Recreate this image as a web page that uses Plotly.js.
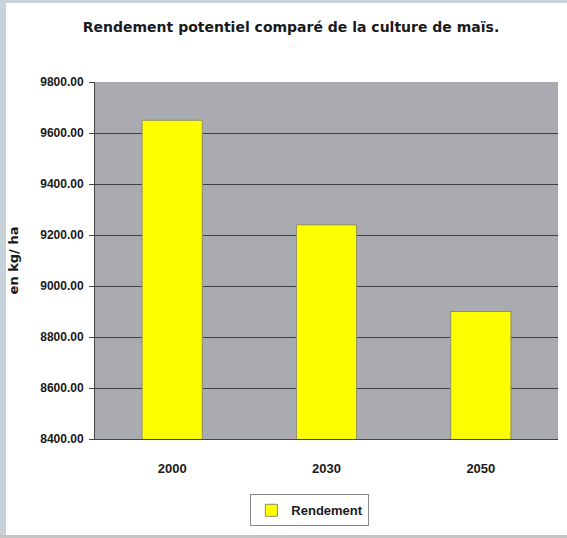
<!DOCTYPE html>
<html>
<head>
<meta charset="utf-8">
<script src="https://cdn.plot.ly/plotly-3.0.1.min.js"></script>
<style>
  html, body { margin: 0; padding: 0; width: 567px; height: 538px; background: #c8d2da; overflow: hidden; }
  #frame { position: absolute; left: 6px; top: 3px; width: 561px; height: 532px; background: #ffffff; }
  #bottom { position: absolute; left: 0; top: 535px; width: 567px; height: 3px; background: #c4c4c4; }
  #chart { width: 561px; height: 532px; }
</style>
</head>
<body>
<div id="frame"><div id="chart"></div></div>
<div id="bottom"></div>
<script>
// Data
const categories = ["2000", "2030", "2050"];
const rendement = [9650, 9240, 8900];
const seriesName = "Rendement";
const yTickValues = [8400, 8600, 8800, 9000, 9200, 9400, 9600, 9800];
const chartTitle = "Rendement potentiel comparé de la culture de maïs.";
const yTitle = "en kg/ ha";

const font = "Liberation Sans, Arial, sans-serif";
const wideFont = "DejaVu Sans, Liberation Sans, sans-serif";

const trace = {
  type: "bar",
  x: categories,
  y: rendement,
  name: seriesName,
  showlegend: true,
  marker: { color: "#ffff00", line: { color: "#8c8c6a", width: 1 } }
};

const layout = {
  width: 561,
  height: 532,
  margin: { l: 89, r: 9, t: 79, b: 91 },
  paper_bgcolor: "#ffffff",
  plot_bgcolor: "#aaabb1",
  bargap: 0.61,
  showlegend: true,
  title: {
    text: chartTitle,
    font: { family: wideFont, size: 14, color: "#1a1a1a", weight: "bold" },
    x: 0.508, xanchor: "center", xref: "container",
    y: 0.955, yanchor: "middle"
  },
  xaxis: {
    type: "category",
    showline: true, linecolor: "#444", linewidth: 1,
    ticks: "", ticklabelstandoff: 17,
    tickfont: { family: font, size: 13, color: "#1a1a1a", weight: "bold" },
    showgrid: false
  },
  yaxis: {
    range: [8400, 9800],
    tickvals: yTickValues,
    tickformat: ".2f",
    showline: true, linecolor: "#444", linewidth: 1,
    ticks: "outside", ticklen: 5, tickcolor: "#444",
    ticklabelstandoff: 3,
    tickfont: { family: font, size: 12, color: "#1a1a1a", weight: "bold" },
    showgrid: true, gridcolor: "#3e3e44", gridwidth: 1,
    zeroline: false,
    title: { text: yTitle, font: { family: wideFont, size: 13, color: "#1a1a1a", weight: "bold" }, standoff: 18 }
  },
  legend: {
    orientation: "h",
    x: 0.464, xanchor: "center",
    y: -0.155, yanchor: "top",
    bgcolor: "#ffffff", bordercolor: "#8a8a8a", borderwidth: 1,
    font: { family: font, size: 13, color: "#1a1a1a", weight: "bold" },
    itemwidth: 30
  }
};

Plotly.newPlot("chart", [trace], layout, { displayModeBar: false, staticPlot: true });
</script>
</body>
</html>
